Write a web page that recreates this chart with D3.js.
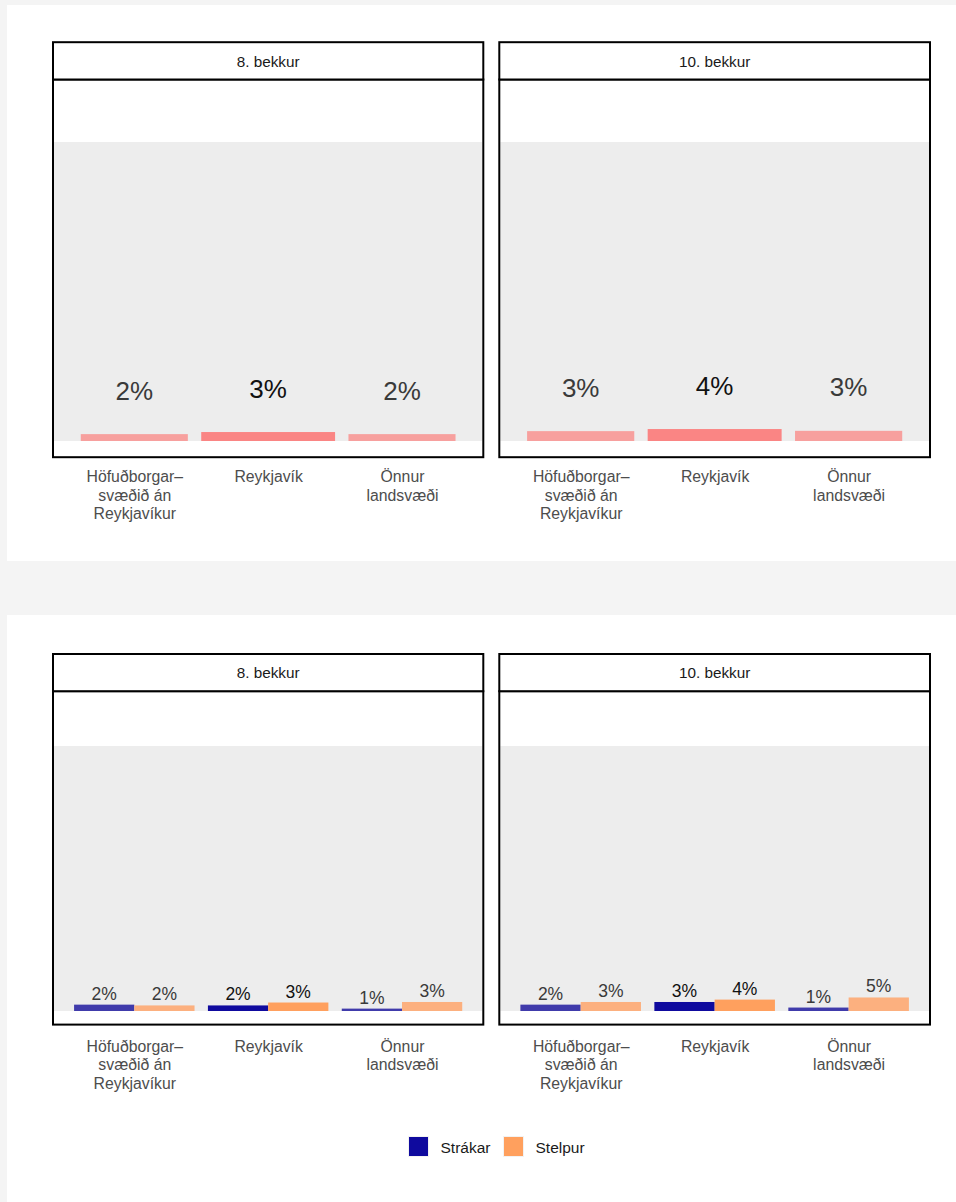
<!DOCTYPE html>
<html><head><meta charset="utf-8">
<script src="https://cdn.jsdelivr.net/npm/d3@7"></script>
<style>
body{margin:0;background:#f4f4f4;}
svg{display:block;font-family:"Liberation Sans",Arial,sans-serif;}
</style></head>
<body>
<svg id="chart" width="956" height="1202"></svg>
<script>
// ---------- data ----------
const categories = ["Höfuðborgar–\nsvæðið án\nReykjavíkur", "Reykjavík", "Önnur\nlandsvæði"];
const highlightCategory = "Reykjavík";
const grades = ["8. bekkur", "10. bekkur"];
// top chart: total per region
const totalGrade8  = [0.023, 0.030, 0.023];
const totalGrade10 = [0.033, 0.040, 0.034];
// bottom chart: by gender
const genders = ["Strákar", "Stelpur"];
const boysGrade8   = [0.024, 0.021, 0.009];
const girlsGrade8  = [0.021, 0.032, 0.034];
const boysGrade10  = [0.024, 0.034, 0.013];
const girlsGrade10 = [0.034, 0.043, 0.051];

// ---------- layout ----------
const svg = d3.select("#chart");
const pct = d3.format(".0%");
const catName = c => c.replace(/\n/g, " ");

svg.append("rect").attr("x",7).attr("y",5).attr("width",949).attr("height",556).attr("fill","#fff");
svg.append("rect").attr("x",7).attr("y",615).attr("width",949).attr("height",587).attr("fill","#fff");

const panelsX = [{x0:53, x1:483.3}, {x0:499.3, x1:930}];

const rows = [
  {top:42.2, stripBottom:79.5, bottom:457.2, y0:441, y1:142, catBase:482, stripBase:66.5,
   type:"total", data:[totalGrade8, totalGrade10]},
  {top:654, stripBottom:691.2, bottom:1024.6, y0:1011, y1:746, catBase:1051.5, stripBase:678,
   type:"gender", data:[[boysGrade8, girlsGrade8],[boysGrade10, girlsGrade10]]}
];

const colTotal = {hi:"#fa8584", lo:"#f7a09e"};
const colGender = [{hi:"#0f0a9e", lo:"#403bab"}, {hi:"#ffa05e", lo:"#fcb07f"}];

rows.forEach(row => {
  panelsX.forEach((px, pi) => {
    const g = svg.append("g");
    const innerL = px.x0 + 1, innerR = px.x1 - 1;
    const x = d3.scalePoint().domain(categories).range([innerL, innerR]).padding(0.6);
    const y = d3.scaleLinear().domain([0,1]).range([row.y0, row.y1]);
    const step = x.step();

    // grey band 0..100%
    g.append("rect").attr("x", innerL).attr("width", innerR-innerL)
      .attr("y", y(1)).attr("height", y(0)-y(1)).attr("fill","#ededed");

    if (row.type === "total") {
      const vals = row.data[pi];
      const d = categories.map((c,i)=>({c, v:vals[i], hi: catName(c)===highlightCategory}));
      g.selectAll("rect.bar").data(d).join("rect").attr("class","bar")
        .attr("x", e => x(e.c) - (e.hi?1.0:0.8)*step/2)
        .attr("width", e => (e.hi?1.0:0.8)*step)
        .attr("y", e => y(e.v)).attr("height", e => y(0)-y(e.v))
        .attr("fill", e => e.hi?colTotal.hi:colTotal.lo);
      g.selectAll("text.val").data(d).join("text").attr("class","val")
        .attr("x", e => x(e.c)).attr("y", e => y(e.v) - 34.5)
        .attr("text-anchor","middle").attr("font-size",26)
        .attr("fill", e => e.hi?"#111":"#3a3a3a")
        .text(e => pct(e.v));
    } else {
      const [boys, girls] = row.data[pi];
      const d = [];
      categories.forEach((c,i)=>{
        const hi = catName(c)===highlightCategory;
        d.push({c, gi:0, v:boys[i], hi});
        d.push({c, gi:1, v:girls[i], hi});
      });
      const w = 0.45*step;
      g.selectAll("rect.bar").data(d).join("rect").attr("class","bar")
        .attr("x", e => x(e.c) - w + e.gi*w)
        .attr("width", w)
        .attr("y", e => y(e.v)).attr("height", e => y(0)-y(e.v))
        .attr("fill", e => e.hi?colGender[e.gi].hi:colGender[e.gi].lo);
      g.selectAll("text.val").data(d).join("text").attr("class","val")
        .attr("x", e => x(e.c) - w/2 + e.gi*w).attr("y", e => y(e.v) - 5)
        .attr("text-anchor","middle").attr("font-size",17.5)
        .attr("fill", e => e.hi?"#111":"#3a3a3a")
        .text(e => pct(e.v));
    }

    // panel + strip borders
    g.append("rect").attr("x",px.x0).attr("y",row.stripBottom).attr("width",px.x1-px.x0)
      .attr("height",row.bottom-row.stripBottom).attr("fill","none").attr("stroke","#000").attr("stroke-width",2);
    g.append("rect").attr("x",px.x0).attr("y",row.top).attr("width",px.x1-px.x0)
      .attr("height",row.stripBottom-row.top).attr("fill","#fff").attr("stroke","#000").attr("stroke-width",2);
    g.append("text").attr("x",(px.x0+px.x1)/2).attr("y",row.stripBase)
      .attr("text-anchor","middle").attr("font-size",15.3).attr("fill","#1a1a1a").text(grades[pi]);

    // category axis
    const ax = g.append("g").attr("transform",`translate(0,${row.catBase})`)
      .call(d3.axisBottom(x).tickSize(0).tickPadding(0));
    ax.select(".domain").remove();
    ax.selectAll(".tick text").each(function(c){
      const t = d3.select(this).text(null).attr("y",0).attr("dy",null)
        .attr("font-size",15.8).attr("fill","#4d4d4d").attr("font-family","Liberation Sans, Arial, sans-serif");
      c.split("\n").forEach((line,li)=>{
        t.append("tspan").attr("x",0).attr("y",li*18.7).text(line);
      });
    });
  });
});

// legend
const legendColors = ["#0f0a9e", "#ffa05e"];
const legendX = [409, 504];
const lg = svg.append("g");
genders.forEach((gname,i)=>{
  lg.append("rect").attr("x",legendX[i]-1).attr("y",1136).attr("width",21).attr("height",21).attr("fill","#f2f2f2");
  lg.append("rect").attr("x",legendX[i]).attr("y",1137).attr("width",19).attr("height",19).attr("fill",legendColors[i]);
  lg.append("text").attr("x",legendX[i]+31.5).attr("y",1153).attr("font-size",15.5).attr("fill","#1a1a1a").text(gname);
});
</script>
</body></html>
